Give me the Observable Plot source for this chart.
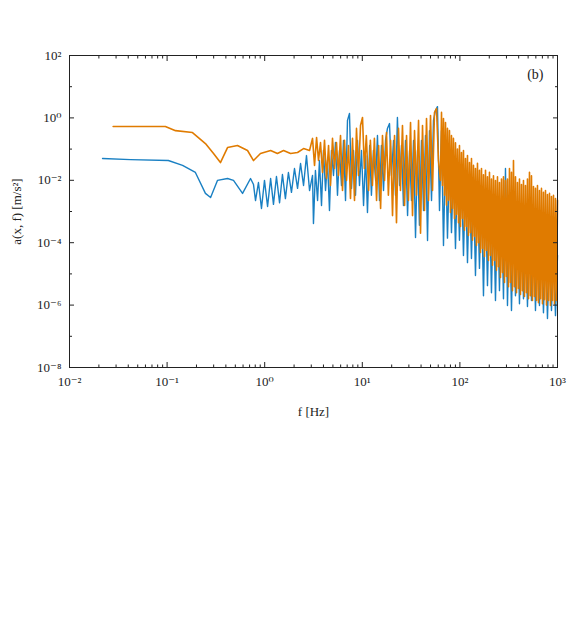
<!DOCTYPE html>
<html><head><meta charset="utf-8">
<script src="https://cdn.jsdelivr.net/npm/d3@7"></script>
<script src="https://cdn.jsdelivr.net/npm/@observablehq/plot@0.6"></script>
<style>body{margin:0;background:#fff;} #chart svg{display:block;}</style>
</head><body><div id="chart"></div>
<script>
// ---- tick values and labels ----
const xMajor = [1e-2, 1e-1, 1, 10, 100, 1000];
const xTickLabels = ["10⁻²", "10⁻¹", "10⁰", "10¹", "10²", "10³"];
const yMajor = [1e2, 1, 1e-2, 1e-4, 1e-6, 1e-8];
const yTickLabels = ["10²", "10⁰", "10⁻²", "10⁻⁴", "10⁻⁶", "10⁻⁸"];
const yMinor = [1e1, 1e-1, 1e-3, 1e-5, 1e-7];
const xSubs = [2, 3, 4, 5, 6, 7, 8, 9];

// ---- series: orange (f [Hz], a) ----
const orangeLowF = [0.028,0.053,0.096,0.122,0.182,0.247,0.299,0.352,0.416,0.526,0.667,0.768,0.905,1.15,1.35,1.56,1.84,2.17,2.50,2.88];
const orangeLowA = [0.53,0.53,0.53,0.39,0.34,0.15,0.072,0.037,0.112,0.13,0.09,0.043,0.072,0.09,0.072,0.09,0.072,0.078,0.104,0.09];
const orangeMidF = [3.09,3.24,3.40,3.56,3.73,3.91,4.10,4.30,4.51,4.72,
4.95,5.19,5.44,5.70,5.98,6.27,6.57,6.89,7.22,7.57,
7.94,8.32,8.72,9.14,9.59,10.05,10.5,11.0,11.6,12.1,
12.7,13.3,14.0,14.7,15.4,16.1,16.9,17.7,18.5,19.5,
20.4,21.4,22.4,23.5,24.6,25.8,27.1,28.4,29.7,31.2,
32.7,34.3,35.9,37.7,39.5,41.4,43.4,45.5,47.7,50.0,
52.4,54.9,57.6,60.3,63.2];
const orangeMidA = [0.22,0.03,0.235,0.043,0.163,0.0178,0.19,0.0114,0.13,0.0068,
0.22,0.0239,0.163,0.0143,0.273,0.0047,0.19,0.0099,0.13,0.0026,
0.22,0.00225,0.46,0.0143,0.57,1.03,0.0239,0.273,0.0047,0.19,
0.0068,0.22,0.00225,0.13,0.00125,0.273,0.0099,0.34,0.0033,0.19,
0.00074,0.273,0.00044,0.46,0.0047,0.57,0.00156,0.273,0.00225,0.71,
0.00074,0.39,0.0033,0.83,0.0002,0.57,0.00108,0.96,0.00225,1.19,
0.0047,1.49,2.0,0.043,0.0099];
const orangeHighF = [64.8,66.3,67.9,69.5,71.2,72.9,74.6,76.4,78.2,80.1,
82.0,83.9,85.9,88.0,90.1,92.2,94.4,96.7,99.0,101.4,
103.8,106.3,108.8,111.4,114.1,116.8,119.6,122.4,125.4,128.4,
131.4,134.6,137.8,141.1,144.4,147.9,151.4,155.0,158.7,162.5,
166.4,170.4,174.4,178.6,182.9,187.2,191.7,196.2,200.9,205.7,
210.6,215.7,220.8,226.1,231.5,237.0,242.7,248.5,254.4,260.5,
266.7,273.1,279.6,286.3,293.1,300.1,307.3,314.6,322.1,329.8,
337.7,345.7,354.0,362.4,371.1,379.9,389.0,398.3,407.8,417.5,
427.5,437.7,448.1,458.8,469.8,481.0,492.5,504.2,516.3,528.6,
541.2,554.1,567.4,580.9,594.8,609.0,623.5,638.4,653.6,669.2,
685.2,701.6,718.3,735.5,753.1,771.1,789.5,808.4,827.7,847.5,
867.7,888.4,909.6,931.3,953.6,976.4,1000];
const orangeHighA = [1.5,6.8e-3,0.96,3.3e-3,0.71,1.6e-3,0.46,2.3e-3,0.39,9.3e-4,
0.27,1.25e-3,0.22,6.0e-4,0.16,8.0e-4,0.10,4.4e-4,0.13,3.3e-4,
0.078,6.0e-4,0.09,2.5e-4,0.05,3.3e-4,0.062,1.7e-4,0.037,2.1e-4,
0.05,1.2e-4,0.03,1.6e-4,0.024,8.1e-5,0.035,1.0e-4,0.021,4.9e-5,
0.024,6.5e-5,0.015,3.6e-5,0.021,5.6e-5,0.013,2.7e-5,0.018,3.9e-5,
0.011,1.9e-5,0.014,2.7e-5,0.0099,1.3e-5,0.013,1.7e-5,0.0085,7.7e-6,
0.011,1.1e-5,0.013,5.3e-6,0.0099,8.3e-6,0.011,3.9e-6,0.024,5.3e-6,
0.018,2.9e-6,0.043,3.9e-6,0.013,2.5e-6,0.0085,3.4e-6,0.011,2.2e-6,
0.0073,2.9e-6,0.0099,1.9e-6,0.0068,2.5e-6,0.011,1.6e-6,0.018,2.0e-6,
0.014,1.4e-6,0.0063,1.9e-6,0.0055,1.4e-6,0.0068,1.2e-6,0.0047,1.6e-6,
0.0055,1.1e-6,0.0041,1.5e-6,0.0047,1.0e-6,0.0035,1.4e-6,0.0038,9.7e-7,
0.003,1.4e-6,0.0033,1.1e-6,0.0026,1.4e-6,0.0023];

// ---- series: blue (f [Hz], a) ----
const blueLowF = [0.0218,0.0422,0.103,0.144,0.195,0.247,0.279,0.328,0.416,0.479,0.593,0.716,0.768,0.805,0.863,0.927,0.995,1.07,1.15,1.23,1.32,1.42,1.52,1.63,1.75,1.88,2.02,2.17,2.33,2.50,2.68,2.88,3.09];
const blueLowA = [0.050,0.046,0.043,0.030,0.0178,0.0038,0.0028,0.0099,0.0114,0.0099,0.0038,0.0114,0.0073,0.00225,0.0085,0.00125,0.0099,0.00145,0.0114,0.0017,0.0132,0.0019,0.0153,0.0026,0.0178,0.0041,0.0239,0.0055,0.0345,0.0068,0.062,0.0047,0.0143];
const blueMidF = [3.16,3.31,3.48,3.64,3.82,4.00,4.20,4.40,4.61,4.83,
5.07,5.31,5.57,5.84,6.12,6.42,6.73,7.05,7.39,7.75,
8.13,8.52,8.93,9.36,9.81,10.3,10.8,11.3,11.9,12.4,
13.0,13.7,14.3,15.0,15.7,16.5,17.3,18.1,19.0,19.9,
20.9,21.9,22.9,24.1,25.2,26.4,27.7,29.1,30.5,31.9,
33.5,35.1,36.8,38.5,40.4,42.4,44.4,46.6,48.8,51.2,
53.6,56.2,58.9,61.8,64.8,67.9];
const blueMidA = [4.1e-4,0.0206,0.00225,0.043,0.00156,0.09,0.0047,0.043,0.00108,0.09,
0.0143,0.163,0.0033,0.09,0.0068,0.19,0.00225,0.83,1.38,0.0055,
0.09,0.0033,0.19,0.0068,0.09,0.00156,0.062,0.00093,0.13,0.0033,
0.09,0.0099,0.273,0.00225,0.13,0.0047,0.19,0.46,0.66,0.0143,
0.19,0.0033,1.03,0.0068,0.13,0.00156,0.19,0.00074,0.09,0.00225,
0.19,0.000147,0.09,0.00036,0.19,0.00108,0.273,0.000118,0.39,0.00225,
0.83,1.73,2.3,0.00108,0.39,8.1e-5];
const blueHighF = [71.2,74.6,78.2,82.0,85.9,90.1,94.4,99.0,103.8,108.8,
114.1,119.6,125.4,131.4,137.8,144.4,151.4,158.7,166.4,174.4,
182.9,191.7,200.9,210.6,220.8,231.5,242.7,254.4,266.7,279.6,
293.1,307.3,322.1,337.7,354.0,371.1,389.0,407.8,427.5,448.1,
469.8,492.5,516.3,541.2,567.4,594.8,623.5,653.6,685.2,718.3,
753.1,789.5,827.7,867.7,909.6,953.6,1000];
const blueHighA = [0.09,1.4e-4,0.043,2.1e-4,0.03,6.5e-5,0.021,1.2e-4,0.018,3.9e-5,
0.011,2.3e-5,0.0085,3.1e-5,0.0068,8.9e-6,0.0047,1.5e-5,0.0041,2.0e-6,
0.0033,4.2e-6,0.0026,2.5e-6,0.00225,1.4e-6,0.00156,2.9e-6,0.00225,1.6e-6,
0.024,9.7e-7,0.00108,6.7e-7,7.4e-4,2.0e-6,9.3e-4,1.1e-6,5.2e-4,1.6e-6,
3.6e-4,9e-7,2.85e-4,1.4e-6,2.1e-4,6.7e-7,1.7e-4,9.7e-7,1.2e-4,5.7e-7,
8.1e-5,3.7e-7,6.5e-5,6.7e-7,4.9e-5,4.6e-7,3.9e-5];

const zip = (F, A) => F.slice(0, Math.min(F.length, A.length)).map((f, i) => ({f, a: A[i]}));
const orange = [...zip(orangeLowF, orangeLowA), ...zip(orangeMidF, orangeMidA), ...zip(orangeHighF, orangeHighA)];
const blue = [...zip(blueLowF, blueLowA), ...zip(blueMidF, blueMidA), ...zip(blueHighF, blueHighA)];

const xMinor = xMajor.slice(0, -1).flatMap(d => xSubs.map(s => s * d));
const xLabelOf = new Map(xMajor.map((d, i) => [d, xTickLabels[i]]));
const yLabelOf = new Map(yMajor.map((d, i) => [d, yTickLabels[i]]));

const BLUE = "#0072BD";
const ORANGE = "#E07B00";

const chart = Plot.plot({
  width: 576,
  height: 432,
  marginLeft: 69,
  marginRight: 19,
  marginTop: 55,
  marginBottom: 65,
  style: {fontFamily: "'Liberation Serif', 'DejaVu Serif', serif", fontSize: "15px", background: "#fff", color: "#222"},
  x: {type: "log", domain: [1e-2, 1e3], axis: null},
  y: {type: "log", domain: [1e-8, 1e2], axis: null},
  marks: [
    Plot.line(blue, {x: "f", y: "a", stroke: BLUE, strokeWidth: 1.4, strokeOpacity: 0.9}),
    Plot.line(orange, {x: "f", y: "a", stroke: ORANGE, strokeWidth: 1.6}),
    Plot.frame({stroke: "#222"}),
    Plot.axisX(xMajor, {anchor: "bottom", tickSize: -5, tickPadding: 14, tickFormat: d => xLabelOf.get(d), fontSize: 13,
      label: "f [Hz]", labelAnchor: "center", labelArrow: "none", labelOffset: 48}),
    Plot.axisX(xMinor, {anchor: "bottom", tickSize: -2.5, text: null, label: null}),
    Plot.axisX(xMajor, {anchor: "top", tickSize: -5, text: null, label: null}),
    Plot.axisX(xMinor, {anchor: "top", tickSize: -2.5, text: null, label: null}),
    Plot.axisY(yMajor, {anchor: "left", tickSize: -5, tickPadding: 13, tickFormat: d => yLabelOf.get(d), fontSize: 13,
      label: "a(x, f) [m/s²]", labelAnchor: "center", labelArrow: "none", labelOffset: 58}),
    Plot.axisY(yMinor, {anchor: "left", tickSize: -3, text: null, label: null}),
    Plot.axisY(yMajor, {anchor: "right", tickSize: -5, text: null, label: null}),
    Plot.axisY(yMinor, {anchor: "right", tickSize: -3, text: null, label: null}),
    Plot.text(["(b)"], {frameAnchor: "top-right", dx: -14, dy: 14, fontSize: 14, fill: "#222"})
  ]
});
document.getElementById("chart").appendChild(chart);
</script>
</body></html>
